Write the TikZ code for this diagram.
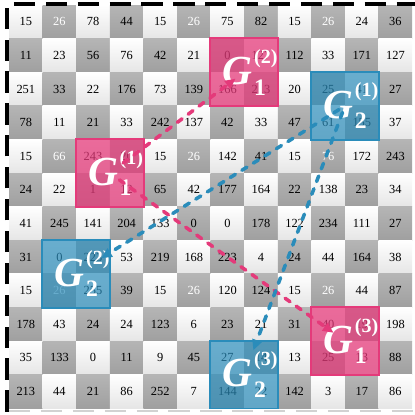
\documentclass[tikz,border=0pt]{standalone}
\usepackage{fontspec}
\setmainfont{Liberation Serif}
\usetikzlibrary{arrows.meta,fit}

\definecolor{gpink}{RGB}{228,58,122}
\definecolor{gblue}{RGB}{42,140,186}

% G with sub- and superscript
\newcommand{\gname}[2]{{\fontsize{35}{35}\selectfont\bfseries\itshape G}\kern1.5pt%
  \makebox[0pt][l]{\raisebox{18pt}{\fontsize{17}{17}\selectfont\bfseries(#2)}}%
  \raisebox{-9pt}{\fontsize{20}{20}\selectfont\bfseries #1}}

\begin{document}
\begin{tikzpicture}[
  cell/.style={rectangle, minimum size=1cm, inner sep=0pt, font=\fontsize{10.5}{12}\selectfont},
  lightcell/.style={cell, top color=white, bottom color=gray!20},
  darkcell/.style={cell, top color=gray!58, bottom color=gray!75},
  pinkbox/.style={draw=gpink, line width=1.6pt, fill=gpink, fill opacity=0.75, inner sep=0pt},
  bluebox/.style={draw=gblue, line width=1.6pt, fill=gblue, fill opacity=0.7, inner sep=0pt},
  glabel/.style={text=white, inner sep=0pt},
  pinkline/.style={gpink, line width=3pt, line cap=round, dash pattern=on 5pt off 6.5pt, -{Triangle[length=9pt,width=8pt]}},
  blueline/.style={gblue, line width=3pt, line cap=round, dash pattern=on 5pt off 6.5pt, -{Triangle[length=9pt,width=8pt]}}
]
\useasboundingbox (-0.268,0.149) rectangle (12.083,-12.202);

% Grid of values
\foreach \row [count=\r from 0] in {
  {15,26,78,44,15,26,75,82,15,26,24,36},
  {11,23,56,76,42,21,0,127,112,33,171,127},
  {251,33,22,176,73,139,166,213,20,25,41,27},
  {78,11,21,33,242,137,42,33,47,61,155,37},
  {15,66,243,20,15,26,142,41,15,76,172,243},
  {24,22,1,12,65,42,177,164,22,138,23,34},
  {41,245,141,204,133,0,0,178,122,234,111,27},
  {31,0,223,53,219,168,223,4,24,44,164,38},
  {15,26,255,39,15,26,120,124,15,26,44,87},
  {178,43,24,24,123,6,23,21,31,40,19,198},
  {35,133,0,11,9,45,27,14,13,25,13,88},
  {213,44,21,86,252,7,144,22,142,3,17,86}} {
  \foreach \v [count=\c from 0] in \row {
    \pgfmathtruncatemacro\wt{(mod(\r,4)==0)&&(mod(\c,4)==1)}
    \ifnum\wt=1 \def\tc{white}\else\def\tc{black}\fi
    \ifodd\numexpr\r+\c\relax
      \node[darkcell, text=\tc] (c-\r-\c) at (\c+0.5,-\r-0.5) {\v};
    \else
      \node[lightcell, text=\tc] (c-\r-\c) at (\c+0.5,-\r-0.5) {\v};
    \fi
  }
}

% Frame
\draw[line width=3.4pt, dash pattern=on 18pt off 9pt] (-0.06,-12.1) -- (-0.06,0.03) -- (12.1,0.03);
\draw[gray!35, line width=2pt, dash pattern=on 18pt off 9pt] (0,-12.09) -- (12.1,-12.09);

% Windows
\node[pinkbox, fit=(c-4-2)(c-5-3)] (g11) {};
\node[pinkbox, fit=(c-1-6)(c-2-7)] (g12) {};
\node[pinkbox, fit=(c-9-9)(c-10-10)] (g13) {};
\node[bluebox, fit=(c-2-9)(c-3-10)] (g21) {};
\node[bluebox, fit=(c-7-1)(c-8-2)] (g22) {};
\node[bluebox, fit=(c-10-6)(c-11-7)] (g23) {};

\node[glabel] (l11) at (g11.center) {\gname{1}{1}};
\node[glabel] (l12) at (g12.center) {\gname{1}{2}};
\node[glabel] (l13) at (g13.center) {\gname{1}{3}};
\node[glabel] (l21) at (g21.center) {\gname{2}{1}};
\node[glabel] (l22) at (g22.center) {\gname{2}{2}};
\node[glabel] (l23) at (g23.center) {\gname{2}{3}};

% Links
\draw[pinkline, shorten <=14pt, shorten >=9pt] (g11.center) -- (g12.center);
\draw[pinkline, shorten <=10pt, shorten >=12pt] (g11.center) -- (g13.center);
\draw[blueline, shorten <=6pt, shorten >=25pt] (g21.center) -- (g22.center);
\draw[blueline, shorten <=6pt, shorten >=22pt] (g21.center) -- (g23.center);
\end{tikzpicture}
\end{document}
